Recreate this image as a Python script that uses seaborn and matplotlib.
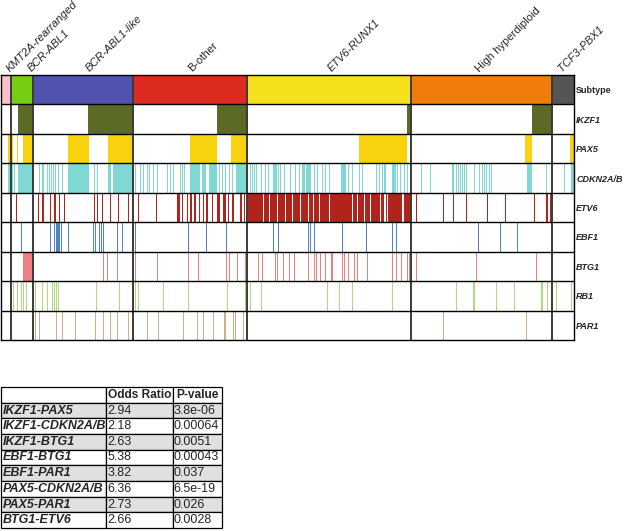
import numpy as np
import pandas as pd
import matplotlib
matplotlib.use('Agg')
import matplotlib.pyplot as plt
from matplotlib.colors import ListedColormap
from matplotlib.transforms import ScaledTranslation
import seaborn as sns

# Subtype groups, in plotting order, with number of samples in each
subtypes = ['KMT2A-rearranged', 'BCR-ABL1', 'BCR-ABL1-like', 'B-other',
            'ETV6-RUNX1', 'High hyperdiploid', 'TCF3-PBX1']
subtype_n = [10, 22, 100, 114, 165, 141, 22]

genes = ['IKZF1', 'PAX5', 'CDKN2A/B', 'ETV6', 'EBF1', 'BTG1', 'RB1', 'PAR1']

# altered samples per gene (sample index, or inclusive (first, last) runs)
ikzf1_hits = [(17, 31), (87, 131), (216, 245), (407, 410), (532, 551)]
pax5_hits = [(7, 9), 11, 16, (22, 31), (67, 87), (107, 131), (189, 215),
             (230, 245), (359, 406), (525, 531), (570, 573)]
cdkn2a_hits = [(7, 9), 11, 13, (17, 31),
               38, 41, 42, 46, 48, 50, 52, 54, 57, 61, (67, 87), 93, 96,
               (107, 109), (112, 131),
               134, 139, 142, 146, 148, 152, 156, 166, 169, 172, 179, 181, 183,
               (189, 198), (201, 204), (208, 215), 218, 221, 224, 228, 231,
               (235, 245),
               249, 251, 253, 255, 260, 264, 267, (272, 275), 277, 279, 283, 287,
               290, 295, 299, (302, 304), (306, 310), 314, 317, 322, 325, 329,
               (341, 345), 348, 352, 359, 362, 376, 379, 382, 384, 385,
               (392, 395), 397, 400, 404, 407,
               421, 430, 452, 453, 456, 458, 460, 462, 464, 466, 474, 479, 482,
               484, 486, 489, 491, (527, 531), 546, 564, (571, 573)]
etv6_hits = [10, 15,
             37, 41, 42, 49, 53, 54, 58, 63, 93, 96, 101, 109, 117, 127,
             137, 155, (176, 178), 181, 186, (189, 190), (193, 194), 198, 202,
             (205, 206), 211, (216, 218), (222, 224), 227, (231, 232),
             (239, 240), 243,
             (247, 261), (263, 267), (269, 275), (277, 283), (285, 291),
             (293, 299), (301, 307), (309, 312), (314, 318), (320, 328),
             (330, 351), (353, 356), (358, 363), (365, 369), (371, 379),
             (381, 383), 386, (388, 401), (404, 410),
             416, 443, 453, 466, 487, 505, 534, (546, 547), 550]
ebf1_hits = [20, 49, 53, 55, 56, 57, 58, 60, 67, 92, 94, 98, 100, 102, 116, 121,
             134, 187, 205, 225, 272, 277, 308, 310, 314, 342, 366, 392, 396,
             478, 500, 517]
btg1_hits = [(22, 31), 102, 106, 116, 134, 156, 187, 197, 225, 228, 236, 244,
             257, 261, 274, 276, 282, 289, 294, 308, 314, 316, 320, 325, 331,
             332, 342, 344, 348, 354, 357, 367, 392, 396, 401, 407, 409,
             416, 476, 536]
rb1_hits = [12, 16, 20, 22, 25, 34, 41, 46, 51, 53, 55, 57, 95, 118, 134, 137,
            162, 187, 226, 244, 249, 260, 327, 339, 352, 392, 456, 473, 474,
            496, 514, 541, 542, 547, 556, 571]
par1_hits = [34, 38, 55, 61, 74, 94, 102, 109, 116, 127, 146, 157, 182, 196,
             202, 212, 223, 224, 232, 234, 242, 443, 526]

# co-occurrence table
pairs = ['IKZF1-PAX5', 'IKZF1-CDKN2A/B', 'IKZF1-BTG1', 'EBF1-BTG1', 'EBF1-PAR1',
         'PAX5-CDKN2A/B', 'PAX5-PAR1', 'BTG1-ETV6']
odds_ratio = ['2.94', '2.18', '2.63', '5.38', '3.82', '6.36', '2.73', '2.66']
p_value = ['3.8e-06', '0.00064', '0.0051', '0.00043', '0.037', '6.5e-19',
           '0.026', '0.0028']

subtype_colors = ['#f8c1c9', '#77cc14', '#5052ae', '#dd2b1f', '#f4e01c',
                  '#f07d0b', '#555555']
gene_colors = ['#5b6b25', '#f8d20c', '#7fd8d3', '#b0241c', '#4f83c8',
               '#ef8080', '#aedb80', '#d2ae86']


def expand(items):
    idx = []
    for it in items:
        if isinstance(it, tuple):
            idx.extend(range(it[0], it[1] + 1))
        else:
            idx.append(it)
    return idx


def build_matrix():
    n = sum(subtype_n)
    mat = np.zeros((1 + len(genes), n), dtype=int)
    mat[0] = np.repeat(np.arange(1, len(subtypes) + 1), subtype_n)
    all_hits = [ikzf1_hits, pax5_hits, cdkn2a_hits, etv6_hits, ebf1_hits,
                btg1_hits, rb1_hits, par1_hits]
    for g, hits in enumerate(all_hits):
        code = 1 + len(subtypes) + g
        mat[g + 1, expand(hits)] = code
    return pd.DataFrame(mat, index=['Subtype'] + genes)


def main():
    sns.set_style('white')
    plt.rcParams['font.family'] = ['Liberation Sans', 'DejaVu Sans']

    fig = plt.figure(figsize=(6.25, 5.31), dpi=100)
    W, H = 625, 531

    data = build_matrix()
    colors = ['#ffffff'] + subtype_colors + gene_colors
    cmap = ListedColormap(colors)

    ax = fig.add_axes([1 / W, 1 - 340 / H, 573 / W, 265 / H])
    sns.heatmap(data, ax=ax, cmap=cmap, vmin=-0.5, vmax=len(colors) - 0.5,
                cbar=False, xticklabels=False, yticklabels=True)

    # group separators
    bounds = np.cumsum(subtype_n)[:-1]
    for b in bounds:
        ax.axvline(b, color='#3a3a3a', lw=1.4)
    for r in range(1, len(genes) + 1):
        ax.axhline(r, color='black', lw=1.0)
    for s in ax.spines.values():
        s.set_visible(True)
        s.set_color('black')
        s.set_linewidth(1.0)

    # row labels on the right
    ax.yaxis.tick_right()
    ax.tick_params(axis='y', length=0, pad=1.5)
    for lab in ax.get_yticklabels():
        lab.set_rotation(0)
        lab.set_fontsize(6.5)
        lab.set_fontweight('bold')
        if lab.get_text() != 'Subtype':
            lab.set_fontstyle('italic')

    # subtype names on top
    centers = np.cumsum(subtype_n) - np.array(subtype_n) / 2
    ax.xaxis.tick_top()
    ax.set_xticks(centers)
    ax.set_xticklabels(subtypes, rotation=45, ha='left', rotation_mode='anchor',
                       fontsize=8)
    ax.tick_params(axis='x', length=0, pad=2)
    italic_names = {'KMT2A-rearranged', 'BCR-ABL1', 'BCR-ABL1-like',
                    'ETV6-RUNX1', 'TCF3-PBX1'}
    # small nudges (pixels) so the narrow groups' labels do not collide
    nudges = [4, 10, 7, 2, 3, -2, -1]
    for lab, dx in zip(ax.get_xticklabels(), nudges):
        lab.set_va('baseline')
        lab.set_transform(lab.get_transform() +
                          ScaledTranslation(dx / 100, 0, fig.dpi_scale_trans))
        if lab.get_text() in italic_names:
            lab.set_fontstyle('italic')
    ax.set_xlabel('')
    ax.set_ylabel('')

    # table of co-occurring pairs
    axt = fig.add_axes([1.5 / W, 1 - 528 / H, 220 / W, 141 / H])
    axt.axis('off')
    rows = [[p, o, v] for p, o, v in zip(pairs, odds_ratio, p_value)]
    tab = axt.table(cellText=rows, colLabels=['', 'Odds Ratio', 'P-value'],
                    colWidths=[0.477, 0.303, 0.22], cellLoc='left',
                    bbox=[0, 0, 1, 1])
    tab.auto_set_font_size(False)
    for (r, c), cell in tab.get_celld().items():
        cell.PAD = 0.012
        cell.set_edgecolor('black')
        cell.set_linewidth(0.9)
        txt = cell.get_text()
        txt.set_fontsize(9)
        if r == 0:
            txt.set_fontweight('bold')
            txt.set_fontsize(8.6)
            cell.set_facecolor('white')
        else:
            cell.set_facecolor('#e0e0e0' if r % 2 == 1 else 'white')
            if c == 0:
                txt.set_fontweight('bold')
                txt.set_fontstyle('italic')

    fig.savefig('out.png', dpi=100, facecolor='white')
    plt.close(fig)


if __name__ == '__main__':
    main()
